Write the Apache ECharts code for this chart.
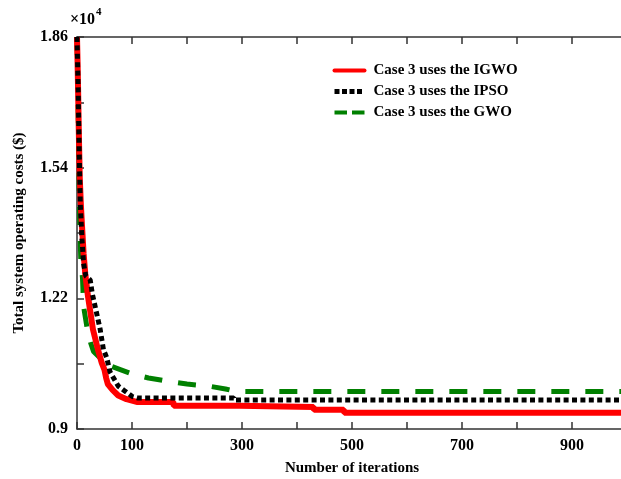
<!DOCTYPE html>
<html>
<head>
<meta charset="utf-8">
<script src="https://cdn.jsdelivr.net/npm/echarts@6/dist/echarts.min.js"></script>
<style>
  html, body { margin: 0; padding: 0; background: #fff; }
  #chart { width: 621px; height: 479px; }
</style>
</head>
<body>
<div id="chart"></div>
<script>
// iterations and total cost ($)
const igwoIter = [0, 1, 2, 3, 4, 5, 7, 9, 12, 15, 20, 29, 38, 45, 50, 53, 56, 65, 75, 90, 110, 175, 176, 295, 296, 430, 431, 485, 486, 1000];
const igwoCost = [18600, 18000, 17300, 16500, 15800, 15150, 14500, 14000, 13300, 12800, 12250, 11440, 10950, 10620, 10450, 10250, 10100, 9950, 9820, 9730, 9660, 9660, 9570, 9570, 9540, 9540, 9470, 9470, 9400, 9400];

const ipsoIter = [0, 2, 4, 6, 9, 12, 16, 24, 28, 33, 42, 48, 54, 60, 75, 85, 100, 110, 285, 286, 1000];
const ipsoCost = [18600, 17400, 15800, 14500, 13650, 13050, 12750, 12650, 12300, 12000, 11450, 10950, 10750, 10400, 10050, 9950, 9800, 9760, 9760, 9710, 9710];

const gwoIter = [0, 3, 5, 7, 10, 12, 18, 25, 30, 45, 60, 80, 100, 130, 160, 200, 240, 270, 290, 1000];
const gwoCost = [18600, 16000, 14000, 13100, 12700, 12000, 11500, 11100, 10900, 10700, 10550, 10450, 10350, 10250, 10180, 10100, 10050, 9980, 9920, 9920];

const seriesNames = ['Case 3 uses the IGWO', 'Case 3 uses the IPSO', 'Case 3 uses the GWO'];
const xLabelsShown = [0, 100, 300, 500, 700, 900];
const yLabelsShown = [9000, 12200, 15400, 18600];

const pairs = (xs, ys) => xs.map((x, i) => [x, ys[i]]);

const font = 'Liberation Serif, Times New Roman, serif';
const axisColor = '#333';

const chart = echarts.init(document.getElementById('chart'));
chart.setOption({
  animation: false,
  backgroundColor: '#fff',
  textStyle: { fontFamily: font },
  // the plot runs a few pixels past the right edge, as in the picture
  grid: { left: 77, width: 550, top: 37, bottom: 50, outerBoundsMode: 'none', containLabel: false },
  legend: {
    data: [
      { name: seriesNames[0], lineStyle: { width: 4, cap: 'round' } },
      { name: seriesNames[1], lineStyle: { width: 5, type: [5, 2.5], cap: 'butt' } },
      { name: seriesNames[2], lineStyle: { width: 4, type: [12.5, 5], cap: 'butt' } }
    ],
    orient: 'vertical',
    left: 327,
    top: 58,
    itemWidth: 30,
    itemHeight: 14,
    itemGap: 6,
    itemStyle: { opacity: 0 },
    textStyle: { fontFamily: font, fontWeight: 'bold', fontSize: 15, color: '#000', padding: [0, 0, 0, 4] }
  },
  graphic: [{
    type: 'text',
    left: 70,
    top: 7,
    style: {
      text: '{a|×10}{b|4}',
      rich: {
        a: { fontFamily: font, fontWeight: 'bold', fontSize: 16, fill: '#000', padding: [6, 0, 0, 0] },
        b: { fontFamily: font, fontWeight: 'bold', fontSize: 11, fill: '#000', padding: [0, 0, 8, 1] }
      }
    }
  }],
  xAxis: [{
    type: 'value',
    min: 0,
    max: 1000,
    interval: 100,
    name: 'Number of iterations',
    nameLocation: 'middle',
    nameGap: 32,
    nameTextStyle: { fontFamily: font, fontWeight: 'bold', fontSize: 15, color: '#000' },
    axisLine: { lineStyle: { color: axisColor, width: 1.5 } },
    axisTick: { inside: true, length: 7, lineStyle: { color: axisColor, width: 1.5 } },
    axisLabel: {
      margin: 9,
      fontFamily: font, fontWeight: 'bold', fontSize: 16, color: '#000',
      formatter: v => xLabelsShown.includes(v) ? String(v) : ''
    },
    splitLine: { show: false }
  }, {
    type: 'value',
    position: 'top',
    min: 0,
    max: 1000,
    interval: 100,
    axisLine: { lineStyle: { color: axisColor, width: 1.5 } },
    axisTick: { inside: true, length: 7, lineStyle: { color: axisColor, width: 1.5 } },
    axisLabel: { show: false },
    splitLine: { show: false }
  }],
  yAxis: {
    type: 'value',
    min: 9000,
    max: 18600,
    interval: 1600,
    name: 'Total system operating costs ($)',
    nameLocation: 'middle',
    nameGap: 50,
    nameTextStyle: { fontFamily: font, fontWeight: 'bold', fontSize: 15, color: '#000' },
    axisLine: { show: true, lineStyle: { color: axisColor, width: 1.5 } },
    axisTick: { show: true, inside: true, length: 7, lineStyle: { color: axisColor, width: 1.5 } },
    axisLabel: {
      margin: 9,
      fontFamily: font, fontWeight: 'bold', fontSize: 16, color: '#000',
      formatter: v => yLabelsShown.includes(v) ? String(v / 10000) : ''
    },
    splitLine: { show: false }
  },
  series: [
    {
      name: seriesNames[2],
      type: 'line',
      data: pairs(gwoIter, gwoCost),
      showSymbol: false,
      symbol: 'none',
      color: '#008000',
      lineStyle: { color: '#008000', width: 5, type: [18, 16], cap: 'butt' },
      z: 2
    },
    {
      name: seriesNames[0],
      type: 'line',
      data: pairs(igwoIter, igwoCost),
      showSymbol: false,
      symbol: 'none',
      color: '#ff0000',
      lineStyle: { color: '#ff0000', width: 6 },
      z: 3
    },
    {
      name: seriesNames[1],
      type: 'line',
      data: pairs(ipsoIter, ipsoCost),
      showSymbol: false,
      symbol: 'none',
      color: '#000',
      lineStyle: { color: '#000', width: 5, type: [5, 3.4], cap: 'butt' },
      z: 4
    }
  ]
});
</script>
</body>
</html>
